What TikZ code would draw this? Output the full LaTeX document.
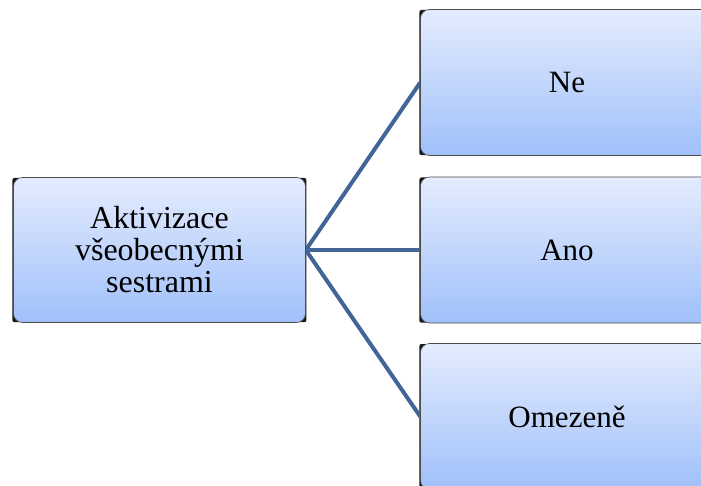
\documentclass[tikz,border=0pt]{standalone}
\usepackage{fontspec}
\setmainfont{Liberation Serif}
\usetikzlibrary{backgrounds}
\definecolor{linkblue}{RGB}{65,101,150}
\definecolor{boxtop}{RGB}{228,236,254}
\definecolor{boxbottom}{RGB}{160,192,250}
\tikzset{
  choicebox/.style={rectangle, rounded corners=9pt, draw=black!70, line width=0.6pt,
    top color=boxtop, bottom color=boxbottom, inner sep=0pt, align=center},
  link/.style={draw=linkblue, line width=4pt},
  frame/.style={fill=black!90, rounded corners=2pt}
}
\begin{document}
\begin{tikzpicture}[x=1pt,y=-1pt]
  \useasboundingbox (0,0) rectangle (701,486);
  \clip (0,0) rectangle (701,486);

  \node[choicebox, minimum width=292pt, minimum height=145pt,
        font=\fontsize{32}{32}\selectfont] (akt) at (159.5,250)
        {Aktivizace\\všeobecnými\\sestrami};
  \node[choicebox, minimum width=293pt, minimum height=146pt,
        font=\fontsize{31}{36}\selectfont] (ne) at (567,82.5) {Ne};
  \node[choicebox, minimum width=293pt, minimum height=146pt,
        font=\fontsize{31}{36}\selectfont] (ano) at (567,250) {Ano};
  \node[choicebox, minimum width=293pt, minimum height=146pt,
        font=\fontsize{31}{36}\selectfont] (ome) at (567,416.5) {Omezeně};

  % dark frames behind the boxes, then the connectors from the first box
  \begin{scope}[on background layer]
    \foreach \n in {akt,ne,ano,ome}
      \path[frame] ([shift={(-0.8pt,-0.8pt)}]\n.north west) rectangle ([shift={(0.6pt,0.6pt)}]\n.south east);
    \draw[link] (akt.east) -- (ne.west);
    \draw[link] (akt.east) -- (ano.west);
    \draw[link] (akt.east) -- (ome.west);
  \end{scope}
\end{tikzpicture}
\end{document}
